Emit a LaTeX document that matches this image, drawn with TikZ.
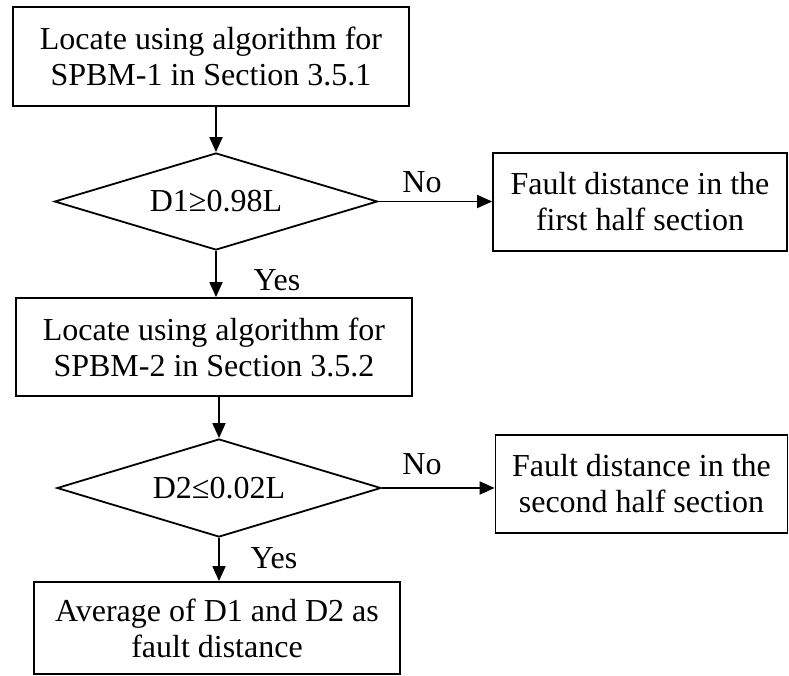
\documentclass[tikz,border=0pt]{standalone}
\usepackage{fontspec}
\setmainfont{Liberation Serif}
\usetikzlibrary{shapes.geometric,arrows.meta}
\begin{document}
\begin{tikzpicture}[x=1pt,y=-1pt,
  every node/.style={font=\fontsize{32}{36}\selectfont},
  procbox/.style={draw,line width=1.8pt,inner sep=0pt,align=center},
  decide/.style={draw,line width=1.8pt,diamond,aspect=3.3,inner sep=0pt},
  flow/.style={line width=1.8pt,-{Triangle[length=15pt,width=13pt]}},
  lbl/.style={inner sep=0pt}]
\useasboundingbox (0,0) rectangle (789,675);
\node[procbox,minimum width=396pt,minimum height=99pt] (b1) at (211,56.5) {Locate using algorithm for\\SPBM-1 in Section 3.5.1};
\node[decide,minimum width=323pt,minimum height=97pt] (d1) at (216,201.5) {D1≥0.98L};
\node[procbox,minimum width=396pt,minimum height=98pt] (b2) at (214,347) {Locate using algorithm for\\SPBM-2 in Section 3.5.2};
\node[decide,minimum width=324pt,minimum height=98pt] (d2) at (219,488) {D2≤0.02L};
\node[procbox,minimum width=366pt,minimum height=92pt] (b3) at (217,628) {Average of D1 and D2 as\\fault distance};
\node[procbox,minimum width=294pt,minimum height=98pt] (r1) at (640,202) {Fault distance in the\\first half section};
\node[procbox,minimum width=292pt,minimum height=98pt] (r2) at (641.5,484) {Fault distance in the\\second half section};
\draw[flow] (d1.north |- b1.south) -- (d1.north);
\draw[flow] (d1.south) -- (d1.south |- b2.north);
\draw[flow] (d2.north |- b2.south) -- (d2.north);
\draw[flow] (d2.south) -- (d2.south |- b3.north);
\draw[flow] (d1.east) -- (d1.east -| r1.west);
\draw[flow] (d2.east) -- (d2.east -| r2.west);
\node[lbl] (no1) at (422,182) {No};
\node[lbl] (no2) at (422,464) {No};
\node[lbl] (yes1) at (277,280) {Yes};
\node[lbl] (yes2) at (274,558) {Yes};
\end{tikzpicture}
\end{document}
